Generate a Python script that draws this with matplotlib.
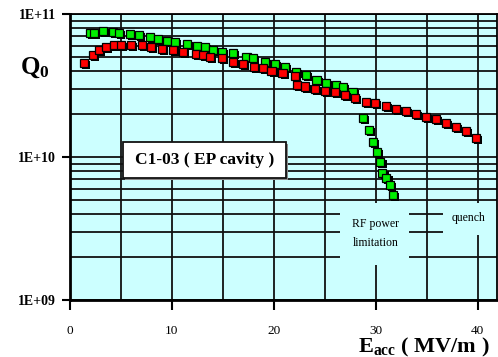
import matplotlib
matplotlib.use("Agg")
import matplotlib.pyplot as plt
import matplotlib.patheffects as pe
from matplotlib.patches import Rectangle

plt.rcParams["font.family"] = ["Liberation Serif", "DejaVu Serif"]
plt.rcParams["mathtext.fontset"] = "custom"
plt.rcParams["mathtext.rm"] = "Liberation Serif"
plt.rcParams["mathtext.bf"] = "Liberation Serif:bold"

# EP cavity, first test (green) - limited by RF power
green_e = [1.96, 2.38, 3.26, 4.19, 4.83, 5.88, 6.79, 7.84, 8.66, 9.48, 10.29, 11.44,
           12.42, 13.24, 14.05, 14.87, 16.01, 17.32, 17.97, 19.12, 20.10, 21.08, 22.2,
           23.14, 24.19, 25.10, 26.08, 26.76, 27.72, 28.75, 29.34, 29.77, 30.13, 30.46,
           30.66, 31.05, 31.37, 31.70]
green_logq = [10.865, 10.865, 10.881, 10.876, 10.865, 10.858, 10.853, 10.841, 10.825,
              10.813, 10.802, 10.788, 10.778, 10.771, 10.748, 10.736, 10.725, 10.701,
              10.690, 10.666, 10.648, 10.627, 10.594, 10.573, 10.538, 10.515, 10.503,
              10.492, 10.452, 10.271, 10.191, 10.107, 10.037, 9.967, 9.886, 9.851,
              9.804, 9.734]

# second test (red) - quench at ~40 MV/m
red_e = [1.37, 2.28, 2.87, 3.53, 4.31, 4.97, 5.95, 7.03, 7.94, 8.99, 10.07, 11.11,
         12.35, 13.01, 13.73, 14.87, 16.01, 16.99, 18.04, 18.95, 19.77, 20.85, 22.06,
         22.23, 23.04, 24.02, 25.05, 25.98, 26.96, 27.94, 29.02, 29.90, 30.98, 31.96,
         32.94, 33.92, 34.97, 35.95, 36.93, 37.84, 38.82, 39.87]
red_logq = [10.655, 10.713, 10.748, 10.767, 10.783, 10.783, 10.783, 10.783, 10.771,
            10.753, 10.748, 10.736, 10.720, 10.713, 10.701, 10.690, 10.662, 10.650,
            10.631, 10.620, 10.601, 10.585, 10.569, 10.503, 10.493, 10.473, 10.464,
            10.452, 10.434, 10.410, 10.387, 10.376, 10.359, 10.334, 10.324, 10.301,
            10.278, 10.264, 10.236, 10.212, 10.182, 10.131]

x_ticks = [0, 10, 20, 30, 40]
y_ticks = [1e9, 1e10, 1e11]
y_ticklabels = ["1E+09", "1E+10", "1E+11"]

green_q = [10 ** v for v in green_logq]
red_q = [10 ** v for v in red_logq]

fig = plt.figure(figsize=(4.98, 3.57), dpi=100)
ax = fig.add_axes([70 / 498, 1 - 300 / 357, 427 / 498, 286 / 357])
ax.set_facecolor("#ccffff")
ax.set_yscale("log")
ax.set_xlim(0, 41.9)
ax.set_ylim(1e9, 1e11)

ax.set_xticks(x_ticks)
ax.set_xticks([5, 15, 25, 35], minor=True)
ax.set_yticks(y_ticks)
ax.set_yticklabels(y_ticklabels)
ax.set_axisbelow(True)
ax.grid(which="both", color="#111111", linewidth=1.3)
ax.tick_params(which="minor", length=0)
ax.tick_params(axis="x", which="major", direction="out", length=7, width=1.5, pad=11,
               labelsize=9.5)
ax.tick_params(axis="y", which="major", direction="out", length=6, width=1.5, pad=4,
               labelsize=10)
for lab in ax.get_yticklabels():
    lab.set_fontweight("bold")

for side in ["left", "bottom"]:
    ax.spines[side].set_linewidth(2)
ax.spines["top"].set_linewidth(1.3)
ax.spines["right"].set_linewidth(1.3)

# label boxes that hide the grid
ax.add_patch(Rectangle((5.17, 10 ** 9.853), 16.0, 10 ** 10.105 - 10 ** 9.853,
                       facecolor="white", edgecolor="#111111", linewidth=1.3, zorder=1.5,
                       path_effects=[pe.SimplePatchShadow(offset=(1.5, -1.5),
                                                          shadow_rgbFace="#888888", alpha=1),
                                     pe.Normal()]))
ax.text(13.2, 10 ** 9.98, "C1-03 ( EP cavity )", ha="center", va="center",
        fontsize=12.5, fontweight="bold", zorder=3)

ax.add_patch(Rectangle((26.5, 10 ** 9.245), 6.8, 10 ** 9.678 - 10 ** 9.245,
                       facecolor="#ccffff", edgecolor="none", zorder=1))
ax.add_patch(Rectangle((36.6, 10 ** 9.455), 5.4, 10 ** 9.678 - 10 ** 9.455,
                       facecolor="#ccffff", edgecolor="none", zorder=1))
fig.text(376 / 498, 1 - 224 / 357, "RF power", ha="center", va="center", fontsize=8.5)
fig.text(376 / 498, 1 - 243 / 357, "limitation", ha="center", va="center", fontsize=8.5)
fig.text(468 / 498, 1 - 218 / 357, "quench", ha="center", va="center", fontsize=8.5)

shadow = [pe.SimplePatchShadow(offset=(1.5, -1.5), shadow_rgbFace="black", alpha=1),
          pe.Normal()]
ax.plot(green_e, green_q, linestyle="none", marker="s", markersize=5.8,
        markerfacecolor="#00ee00", markeredgecolor="black", markeredgewidth=0.9,
        path_effects=shadow, zorder=3)
ax.plot(red_e, red_q, linestyle="none", marker="s", markersize=5.8,
        markerfacecolor="#ff0000", markeredgecolor="black", markeredgewidth=0.9,
        path_effects=shadow, zorder=4)

fig.text(20 / 498, 1 - 68 / 357, r"$\mathbf{Q_0}$", ha="left", va="center", fontsize=18)
fig.text(358 / 498, 1 - 352 / 357, r"$\mathbf{E_{acc}}$ ( MV/m )", ha="left",
         va="baseline", fontsize=16, fontweight="bold")

fig.savefig("out.png", dpi=100)
